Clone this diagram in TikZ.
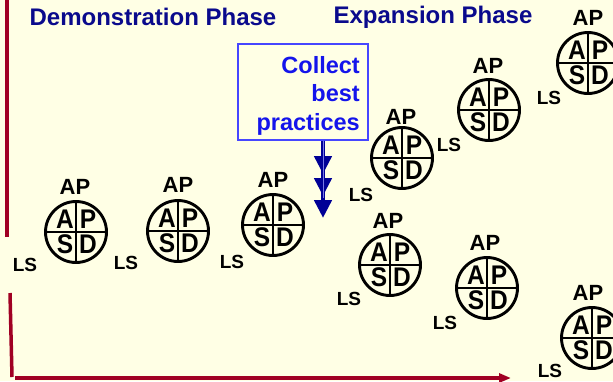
\documentclass[tikz,border=0pt]{standalone}
\usepackage{fontspec}
\setmainfont{Liberation Sans}
\usetikzlibrary{arrows.meta}
\definecolor{paper}{RGB}{255,255,229}
\definecolor{phaseblue}{RGB}{10,10,140}
\definecolor{noteblue}{RGB}{20,20,235}
\definecolor{frameblue}{RGB}{70,70,255}
\definecolor{flownavy}{RGB}{0,0,150}
\definecolor{flowlight}{RGB}{120,120,230}
\definecolor{axisred}{RGB}{160,0,35}
% quadrant letters are set a little taller than the font's own shape
\newcommand\tallglyph[1]{\scalebox{1}[1.1]{#1}}

\begin{document}
\begin{tikzpicture}[x=1pt,y=-1pt,
  phase/.style={font=\bfseries\fontsize{24}{28}\selectfont, text=phaseblue, inner sep=0},
  ring/.style={circle, draw=black, line width=2.9pt, minimum size=61pt, inner sep=0, outer sep=0},
  cross/.style={line width=2.6pt},
  quad/.style={font=\bfseries\fontsize{24.5}{28}\selectfont, inner sep=0},
  tag/.style={font=\bfseries\fontsize{22}{26}\selectfont, inner sep=0},
  lstag/.style={font=\bfseries\fontsize{19}{22}\selectfont, inner sep=0},
  axis/.style={draw=axisred, line width=3.5pt},
  noteframe/.style={draw=frameblue, line width=1.4pt, minimum width=130pt, minimum height=96pt, inner sep=0},
  notetext/.style={align=right, text=noteblue, inner sep=0, font=\bfseries\fontsize{23.5}{28.5}\selectfont},
  tripletip/.style={-{Triangle[length=18pt,width=17pt,sep=4pt] Triangle[length=18pt,width=17pt,sep=4pt] Triangle[length=18pt,width=17pt]}}
]
% page and background
\fill[paper] (0,0) rectangle (613,381);
\path[use as bounding box, clip] (0,0) rectangle (613,381);

% time axis (broken vertical line and horizontal arrow)
\coordinate (axtop) at (7,0);
\coordinate (axmid) at (7,237);
\coordinate (axlow) at (10,293);
\coordinate (axbase) at (12,377);
\coordinate (xstart) at (15,378);
\coordinate (xend) at (511,378);
\draw[axis] (axtop) -- (axmid);
\draw[axis] (axlow) -- (axbase);
\draw[axis, -{Triangle[length=12pt,width=9pt]}] (xstart) -- (xend);

% phase headings
\node[phase] (demo) at (153,17) {Demonstration Phase};
\node[phase] (expand) at (433,17) {Expansion Phase};

% note box and its flow arrow
\node[noteframe] (note) at (303,92) {};
\node[notetext, anchor=north east] (notetxt) at (360,56) {Collect\\best\\practices};
\coordinate (flowtip) at (323,218);
\draw[flownavy, line width=4.5pt, tripletip] (note.south -| flowtip) -- (flowtip);
\draw[flowlight, line width=0.9pt] (note.south -| flowtip) -- ([yshift=20pt]flowtip);

% PDSA cycles: number / centre / AP label / LS label
\foreach \n/\cx/\cy/\ax/\ay/\lx/\ly in {
  1/76/232/75/187/25/265,
  2/178/231/178/185/126/263,
  3/273/225/273/180/232/262,
  4/402/158/401/117/361/195,
  5/489/110/488/66/449/145,
  6/588/63/588/18/549/98,
  7/390/265/388/221/349/299,
  8/487/288/485/243/445/323,
  9/592/338/588/293/550/371}{
  \node[ring] (c\n) at (\cx,\cy) {};
  \draw[cross] ([yshift=1.5pt]c\n.north) -- ([yshift=-1.5pt]c\n.south);
  \draw[cross] ([xshift=-1.5pt]c\n.west) -- ([xshift=1.5pt]c\n.east);
  \node[quad] (qa\n) at ([shift={(-11,-13)}]c\n.center) {\tallglyph{A}};
  \node[quad] (qp\n) at ([shift={(12,-13)}]c\n.center) {\tallglyph{P}};
  \node[quad] (qs\n) at ([shift={(-11,12)}]c\n.center) {\tallglyph{S}};
  \node[quad] (qd\n) at ([shift={(12,12)}]c\n.center) {\tallglyph{D}};
  \node[tag] (ap\n) at (\ax,\ay) {AP};
  \node[lstag] (ls\n) at (\lx,\ly) {LS};
}
\end{tikzpicture}
\end{document}
